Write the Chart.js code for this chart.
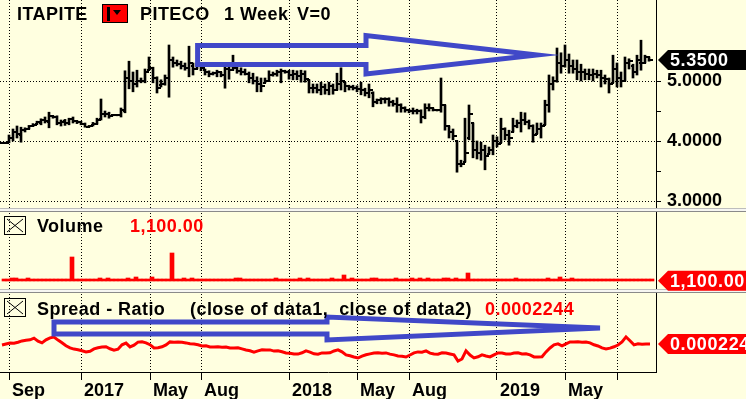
<!DOCTYPE html>
<html>
<head>
<meta charset="utf-8">
<script src="https://cdn.jsdelivr.net/npm/chart.js@4.4.1/dist/chart.umd.min.js"></script>
<style>
  html, body { margin: 0; padding: 0; background: #FFFFE0; }
  #wrap { position: relative; width: 746px; height: 399px; overflow: hidden; background: #FFFFE0; }
  #c { position: absolute; left: 0; top: 0; }
  .hdr { position: absolute; font: bold 18px "Liberation Sans", Arial, sans-serif; line-height: 18px; color: #000; white-space: nowrap; letter-spacing: 0.45px; }
  .red { color: #f00; }
</style>
</head>
<body>
<div id="wrap">
  <canvas id="c" width="746" height="399"></canvas>
  <div class="hdr" style="left:17px;top:5px">ITAPITE</div>
  <div style="position:absolute;left:102px;top:4px;width:24px;height:17px;background:#f00;border:1px solid #000;">
    <div style="position:absolute;left:4px;top:2px;width:3px;height:14px;background:#000"></div>
    <div style="position:absolute;left:10px;top:5px;width:0;height:0;border-left:4.5px solid transparent;border-right:4.5px solid transparent;border-top:5px solid #000"></div>
  </div>
  <div class="hdr" style="left:140px;top:5px">PITECO</div>
  <div class="hdr" style="left:224px;top:5px">1 Week</div>
  <div class="hdr" style="left:297px;top:5px">V=0</div>

  <svg style="position:absolute;left:4px;top:216px" width="23" height="20"><rect x="0.5" y="0.5" width="21" height="18" fill="none" stroke="#000"/><path d="M3 3 L19 16 M19 3 L3 16" stroke="#000" stroke-width="1"/></svg>
  <div class="hdr" style="left:37px;top:217px">Volume</div>
  <div class="hdr red" id="volHdr" style="left:130px;top:217px"></div>

  <svg style="position:absolute;left:4px;top:298px" width="23" height="20"><rect x="0.5" y="0.5" width="21" height="18" fill="none" stroke="#000"/><path d="M3 3 L19 16 M19 3 L3 16" stroke="#000" stroke-width="1"/></svg>
  <div class="hdr" style="left:37px;top:300px">Spread - Ratio</div>
  <div class="hdr" style="left:190px;top:300px">(close of data1,&nbsp; close of data2)</div>
  <div class="hdr red" id="sprHdr" style="left:485px;top:300px"></div>
</div>
<script>
// ---------- DATA (weekly, ITAPITE) ----------
const priceOpen = [3.97,3.97,3.98,4.05,4.15,4.10,4.18,4.20,4.25,4.28,
4.30,4.35,4.32,4.42,4.40,4.30,4.33,4.30,4.36,4.33,
4.31,4.29,4.24,4.26,4.29,4.36,4.45,4.45,4.43,4.43,
4.43,4.50,5.05,5.00,4.95,5.00,5.00,5.18,5.22,5.05,
4.93,4.95,5.05,5.35,5.30,5.28,5.25,5.22,5.25,5.20,
5.25,5.18,5.15,5.12,5.13,5.15,5.10,5.20,5.18,5.22,
5.17,5.15,5.12,5.05,5.00,4.95,4.97,5.00,5.10,5.12,
5.15,5.17,5.15,5.10,5.12,5.08,5.12,5.02,4.88,4.88,
4.85,4.90,4.85,4.92,4.85,4.95,4.98,4.92,4.90,4.88,
4.87,4.85,4.80,4.80,4.65,4.68,4.70,4.70,4.65,4.62,
4.60,4.55,4.52,4.50,4.50,4.50,4.40,4.55,4.55,4.52,
4.52,4.60,4.25,4.15,4.00,3.62,3.65,4.05,4.30,3.85,
3.80,3.85,3.78,3.85,4.00,3.97,4.20,4.10,4.15,4.25,
4.30,4.35,4.32,4.25,4.12,4.20,4.27,4.60,4.95,5.00,
5.30,5.25,5.35,5.25,5.20,5.15,5.15,5.12,5.10,5.12,
5.10,5.05,5.03,4.97,5.20,5.05,5.00,5.30,5.25,5.15,
5.30,5.30,5.40];
const priceHigh = [3.98,3.98,4.10,4.20,4.25,4.23,4.22,4.26,4.29,4.33,
4.37,4.40,4.48,4.42,4.42,4.35,4.36,4.38,4.40,4.34,
4.33,4.30,4.26,4.31,4.38,4.70,4.50,4.48,4.44,4.44,
4.55,5.17,5.33,5.15,5.18,5.05,5.20,5.40,5.23,5.07,
5.02,5.10,5.60,5.40,5.35,5.33,5.30,5.58,5.30,5.30,
5.30,5.20,5.17,5.15,5.18,5.15,5.23,5.23,5.43,5.23,
5.22,5.20,5.15,5.13,5.07,5.05,5.05,5.17,5.15,5.18,
5.20,5.18,5.18,5.18,5.17,5.18,5.17,5.02,4.95,4.95,
4.98,4.95,4.98,4.95,5.13,5.22,4.98,4.93,4.93,4.92,
4.98,4.88,4.95,4.82,4.70,4.72,4.72,4.72,4.68,4.72,
4.62,4.57,4.53,4.55,4.53,4.52,4.62,4.62,4.55,4.52,
5.05,4.60,4.25,4.20,4.00,3.68,4.38,4.60,4.30,4.00,
3.98,3.93,3.90,4.10,4.07,4.38,4.22,4.18,4.38,4.35,
4.48,4.47,4.35,4.27,4.30,4.30,4.68,5.10,5.07,5.55,
5.47,5.60,5.45,5.35,5.35,5.28,5.20,5.20,5.20,5.18,
5.18,5.10,5.05,5.43,5.30,5.15,5.40,5.37,5.28,5.43,
5.68,5.43,5.40];
const priceLow = [3.96,3.96,3.97,4.00,4.05,3.98,4.15,4.20,4.24,4.28,
4.27,4.30,4.22,4.38,4.27,4.25,4.26,4.27,4.30,4.29,
4.27,4.23,4.23,4.25,4.28,4.35,4.40,4.38,4.42,4.42,
4.40,4.47,4.87,4.82,4.90,4.97,4.97,5.18,4.97,4.80,
4.90,4.93,4.73,5.23,5.25,5.20,5.18,5.07,5.10,5.20,
5.17,5.10,5.07,5.10,5.07,5.07,4.88,5.03,5.18,5.13,
5.10,5.10,4.97,4.95,4.82,4.82,4.97,5.00,5.08,5.08,
4.97,5.13,5.03,5.02,5.02,4.98,4.98,4.80,4.80,4.80,
4.77,4.78,4.77,4.78,4.85,4.85,4.82,4.85,4.85,4.82,
4.77,4.75,4.72,4.57,4.62,4.62,4.63,4.58,4.58,4.48,
4.48,4.48,4.47,4.45,4.45,4.30,4.37,4.50,4.50,4.50,
4.48,4.18,4.05,4.02,3.48,3.57,3.65,4.02,3.72,3.70,
3.68,3.52,3.78,3.77,3.90,3.97,4.02,3.93,4.15,4.22,
4.15,4.27,4.20,3.98,4.12,4.05,4.27,4.48,4.85,4.98,
5.13,5.23,5.13,5.13,5.02,5.00,5.02,5.02,5.00,5.05,
4.90,4.95,4.80,4.97,4.90,4.90,5.00,5.20,5.05,5.10,
5.18,5.30,5.33];
const priceClose = [3.97,3.97,4.05,4.15,4.12,4.18,4.20,4.25,4.27,4.32,
4.35,4.33,4.42,4.40,4.30,4.32,4.30,4.36,4.33,4.31,
4.29,4.24,4.25,4.29,4.35,4.45,4.45,4.42,4.43,4.43,
4.52,5.05,5.00,4.95,5.00,5.00,5.15,5.22,5.05,4.88,
4.95,5.05,5.35,5.30,5.28,5.25,5.22,5.30,5.20,5.25,
5.22,5.15,5.12,5.13,5.15,5.10,5.20,5.18,5.22,5.17,
5.15,5.12,5.05,5.00,4.95,4.92,5.00,5.10,5.12,5.15,
5.17,5.15,5.10,5.12,5.08,5.12,5.03,4.88,4.88,4.85,
4.90,4.85,4.92,4.85,4.95,5.00,4.92,4.90,4.88,4.87,
4.85,4.80,4.85,4.65,4.68,4.70,4.70,4.65,4.62,4.60,
4.55,4.52,4.50,4.50,4.50,4.40,4.55,4.55,4.52,4.52,
4.60,4.25,4.15,4.08,3.62,3.62,3.80,4.45,3.85,3.80,
3.85,3.75,3.85,4.00,3.95,4.20,4.10,4.05,4.25,4.30,
4.35,4.32,4.25,4.10,4.20,4.25,4.60,4.95,5.00,5.30,
5.25,5.35,5.25,5.20,5.15,5.15,5.12,5.10,5.12,5.10,
5.05,5.03,4.95,5.20,5.05,5.00,5.30,5.33,5.15,5.35,
5.30,5.40,5.35];
const volume = [1200,900,15000,15000,1500,800,15000,1100,600,1300,
900,1000,1400,700,1100,900,1200,120000,1000,800,
1300,900,700,1100,15000,1200,15000,900,800,1000,
1300,15000,1100,20000,900,1000,1200,20000,800,1100,
900,1300,140000,1000,700,15000,1200,15000,900,1100,
800,1000,1200,900,1300,700,1100,1000,15000,15000,
900,1200,800,1000,1300,900,1100,700,15000,1200,
1000,900,1300,800,15000,1100,15000,900,1200,1000,
800,1100,15000,900,1300,30000,1000,15000,800,1200,
900,1100,15000,15000,1000,800,1300,900,15000,1100,
1200,900,15000,800,15000,1000,15000,1200,900,1100,
15000,15000,800,15000,1300,1000,40000,900,1200,1100,
800,1000,1300,900,1100,1200,800,1000,15000,900,
1100,1300,700,1000,1200,900,15000,1100,800,20000,
1000,1200,15000,900,1100,1000,800,1300,900,1100,
1000,1200,800,900,1100,1000,1300,900,1200,1000,
800,1100,1100];
const spread = [0.0002234,0.0002244,0.0002254,0.0002251,0.0002262,0.0002275,0.0002282,0.0002286,0.0002303,0.0002272,
0.0002255,0.0002285,0.0002305,0.0002314,0.0002283,0.0002256,0.0002226,0.0002205,0.0002193,0.0002186,
0.0002176,0.0002165,0.0002172,0.0002195,0.0002206,0.0002213,0.0002217,0.0002196,0.0002183,0.0002192,
0.0002236,0.0002253,0.0002215,0.0002233,0.0002263,0.0002266,0.0002256,0.0002237,0.0002204,0.0002206,
0.0002216,0.0002235,0.0002265,0.0002262,0.0002264,0.0002261,0.0002255,0.0002246,0.0002243,0.0002236,
0.0002225,0.0002227,0.0002215,0.0002213,0.0002216,0.0002212,0.0002214,0.0002205,0.0002203,0.0002206,
0.0002195,0.0002184,0.0002176,0.0002163,0.0002175,0.0002186,0.0002183,0.0002185,0.0002173,0.0002176,
0.0002166,0.0002155,0.0002152,0.0002145,0.0002143,0.0002156,0.0002175,0.0002163,0.0002146,0.0002142,
0.0002155,0.0002153,0.0002156,0.0002174,0.0002185,0.0002165,0.0002135,0.0002126,0.0002114,0.0002104,
0.0002123,0.0002136,0.0002145,0.0002154,0.0002156,0.0002152,0.0002155,0.0002143,0.0002135,0.0002125,
0.0002122,0.0002114,0.0002134,0.0002155,0.0002165,0.0002162,0.0002175,0.0002153,0.0002145,0.0002142,
0.0002156,0.0002153,0.0002144,0.0002135,0.0002074,0.0002094,0.0002176,0.0002133,0.0002105,0.0002116,
0.0002135,0.0002124,0.0002115,0.0002136,0.0002155,0.0002153,0.0002145,0.0002143,0.0002154,0.0002156,
0.0002144,0.0002146,0.0002135,0.0002115,0.0002113,0.0002116,0.0002165,0.0002204,0.0002235,0.0002245,
0.0002226,0.0002246,0.0002265,0.0002263,0.0002266,0.0002262,0.0002264,0.0002255,0.0002236,0.0002224,
0.0002205,0.0002194,0.0002203,0.0002216,0.0002234,0.0002265,0.0002315,0.0002276,0.0002235,0.0002246,
0.0002242,0.0002245,0.0002244];

// x axis: week positions of month ticks and their labels
const xTickWeeks  = [1.75, 19.75, 37, 49.75, 71.75, 88.75, 101.75, 123.75, 140.75, 153.75];
const xTickLabels = ['Sep', '2017', 'May', 'Aug', '2018', 'May', 'Aug', '2019', 'May', ''];
const priceTicks = [3, 3.5, 4, 4.5, 5];

// drawn trend arrows (annotation outlines in data units: [week, value])
const priceArrow = [[48.9,5.592],[91,5.592],[91,5.758],[133.75,5.433],[91,5.117],[91,5.275],[48.9,5.275],[48.9,5.592]];
const spreadArrow = [[13,0.0002464],[81.25,0.0002464],[81.25,0.0002514],[149.5,0.0002404],[81.25,0.0002284],[81.25,0.0002344],[13,0.0002344],[13,0.0002464]];

// ---------- BUILD ----------
const N = priceClose.length;
const last = N - 1;
const fmtVol = v => v.toLocaleString('en-US', {minimumFractionDigits: 2, maximumFractionDigits: 2});
document.getElementById('volHdr').textContent = fmtVol(volume[last]);
document.getElementById('sprHdr').textContent = spread[last].toFixed(7);

function tickImg(side) {
  const c = document.createElement('canvas');
  c.width = 8; c.height = 2;
  const g = c.getContext('2d');
  g.fillStyle = '#000';
  if (side === 'left') g.fillRect(1, 0, 3, 2); else g.fillRect(4, 0, 3, 2);
  return c;
}
const openImg = tickImg('left');
const closeImg = tickImg('right');

const FONT = '"Liberation Sans", Arial, sans-serif';
Chart.defaults.font.family = FONT;

function tag(ctx, x0, y, fill, text) {
  ctx.save();
  ctx.fillStyle = fill;
  ctx.beginPath();
  ctx.moveTo(x0 + 2, y);
  ctx.lineTo(x0 + 12, y - 10);
  ctx.lineTo(746, y - 10);
  ctx.lineTo(746, y + 10);
  ctx.lineTo(x0 + 12, y + 10);
  ctx.closePath();
  ctx.fill();
  ctx.fillStyle = '#fff';
  ctx.font = 'bold 18px ' + FONT;
  if ('letterSpacing' in ctx) ctx.letterSpacing = '0.6px';
  ctx.textBaseline = 'middle';
  ctx.textAlign = 'left';
  ctx.fillText(text, x0 + 14, y + 1);
  ctx.restore();
}

const decor = {
  id: 'decor',
  beforeDraw(chart) {
    const ctx = chart.ctx;
    ctx.save();
    ctx.fillStyle = '#FFFFE0';
    ctx.fillRect(0, 0, chart.width, chart.height);
    ctx.restore();
  },
  afterDraw(chart) {
    const ctx = chart.ctx;
    const s = chart.scales;
    const right = chart.chartArea.right;
    // panel separators
    [s.y.bottom, s.yv.bottom].forEach(b => {
      const yb = Math.round(b);
      ctx.save();
      ctx.fillStyle = '#F6F6F2';
      ctx.fillRect(0, yb - 2, chart.width, 4);
      ctx.fillStyle = '#BDBDBD';
      ctx.fillRect(0, yb - 2, chart.width, 1);
      ctx.fillStyle = '#8A8A8A';
      ctx.fillRect(0, yb + 1, chart.width, 1);
      ctx.restore();
    });
    // last-value tags
    tag(ctx, right, s.y.getPixelForValue(priceClose[last]), '#000', priceClose[last].toFixed(4));
    tag(ctx, right, s.yv.getPixelForValue(volume[last]), '#f00', fmtVol(volume[last]));
    tag(ctx, right, s.ys.getPixelForValue(spread[last]), '#f00', spread[last].toFixed(7));
  }
};

const idx = priceClose.map((_, i) => i);
const yAxisFit = s => { s.width = 90; s.paddingTop = 0; s.paddingBottom = 0; };

new Chart(document.getElementById('c'), {
  type: 'bar',
  data: {
    datasets: [
      {
        type: 'line', label: 'arrow1', yAxisID: 'y', order: 0,
        data: priceArrow.map(p => ({x: p[0], y: p[1]})),
        borderColor: '#4048C8', borderWidth: 5, pointRadius: 0, tension: 0, fill: false,
        borderJoinStyle: 'miter', borderCapStyle: 'square'
      },
      {
        type: 'line', label: 'arrow2', yAxisID: 'ys', order: 0,
        data: spreadArrow.map(p => ({x: p[0], y: p[1]})),
        borderColor: '#4048C8', borderWidth: 5, pointRadius: 0, tension: 0, fill: false,
        borderJoinStyle: 'miter', borderCapStyle: 'square'
      },
      {
        type: 'line', label: 'Spread - Ratio', yAxisID: 'ys', order: 1,
        data: idx.map(i => ({x: i, y: spread[i]})),
        borderColor: '#f00', borderWidth: 3, pointRadius: 0, tension: 0, fill: false
      },
      {
        type: 'scatter', label: 'open', yAxisID: 'y', order: 2,
        data: idx.map(i => ({x: i, y: priceOpen[i]})),
        pointStyle: openImg, pointRadius: 4
      },
      {
        type: 'scatter', label: 'close', yAxisID: 'y', order: 2,
        data: idx.map(i => ({x: i, y: priceClose[i]})),
        pointStyle: closeImg, pointRadius: 4
      },
      {
        type: 'bar', label: 'high-low', yAxisID: 'y', order: 3,
        data: idx.map(i => ({x: i, y: [priceLow[i], priceHigh[i]]})),
        backgroundColor: '#000', borderWidth: 0, barThickness: 2, minBarLength: 1
      },
      {
        type: 'bar', label: 'Volume', yAxisID: 'yv', order: 4,
        data: idx.map(i => ({x: i, y: volume[i]})),
        backgroundColor: '#f00', borderWidth: 0, barThickness: 4, minBarLength: 2
      }
    ]
  },
  options: {
    responsive: false,
    devicePixelRatio: 1,
    animation: false,
    events: [],
    layout: { padding: 0, autoPadding: false },
    plugins: { legend: { display: false }, tooltip: { enabled: false } },
    scales: {
      x: {
        type: 'linear', position: 'bottom', min: -0.5, max: N + 0.5, offset: false,
        grid: { offset: false, color: '#000', lineWidth: 1, tickLength: 8, tickColor: '#000', tickBorderDash: [] },
        border: { color: '#000', width: 1, dash: [1, 2] },
        afterBuildTicks: s => { s.ticks = xTickWeeks.map(v => ({value: v})); },
        ticks: {
          autoSkip: false, maxRotation: 0, minRotation: 0, align: 'start', labelOffset: 3, padding: 0,
          color: '#000', font: { size: 18, weight: 'bold' },
          callback: (v, i) => xTickLabels[i]
        },
        afterFit: s => { s.height = 27; s.paddingLeft = 0; s.paddingRight = 0; }
      },
      y: {
        type: 'linear', position: 'right', stack: 'panels', stackWeight: 210, min: 2.85, max: 6.35,
        afterBuildTicks: s => { s.ticks = priceTicks.map(v => ({value: v})); },
        grid: {
          color: c => (c.tick && Number.isInteger(c.tick.value)) ? '#000' : 'rgba(0,0,0,0)',
          tickColor: '#000', tickLength: 5, tickBorderDash: []
        },
        border: { color: '#000', width: 1, dash: [1, 2] },
        ticks: {
          padding: 6, color: '#000', font: { size: 18, weight: 'bold' },
          callback: v => Number.isInteger(v) ? v.toFixed(4) : ''
        },
        afterFit: yAxisFit
      },
      yv: {
        type: 'linear', position: 'right', stack: 'panels', stackWeight: 81, min: -50000, max: 355000,
        grid: { display: false },
        border: { color: '#000', width: 1 },
        ticks: { display: false },
        afterFit: yAxisFit
      },
      ys: {
        type: 'linear', position: 'right', stack: 'panels', stackWeight: 81, min: 0.0001964, max: 0.0002774,
        grid: { display: false },
        border: { color: '#000', width: 1 },
        ticks: { display: false },
        afterFit: yAxisFit
      }
    }
  },
  plugins: [decor]
});
</script>
</body>
</html>
